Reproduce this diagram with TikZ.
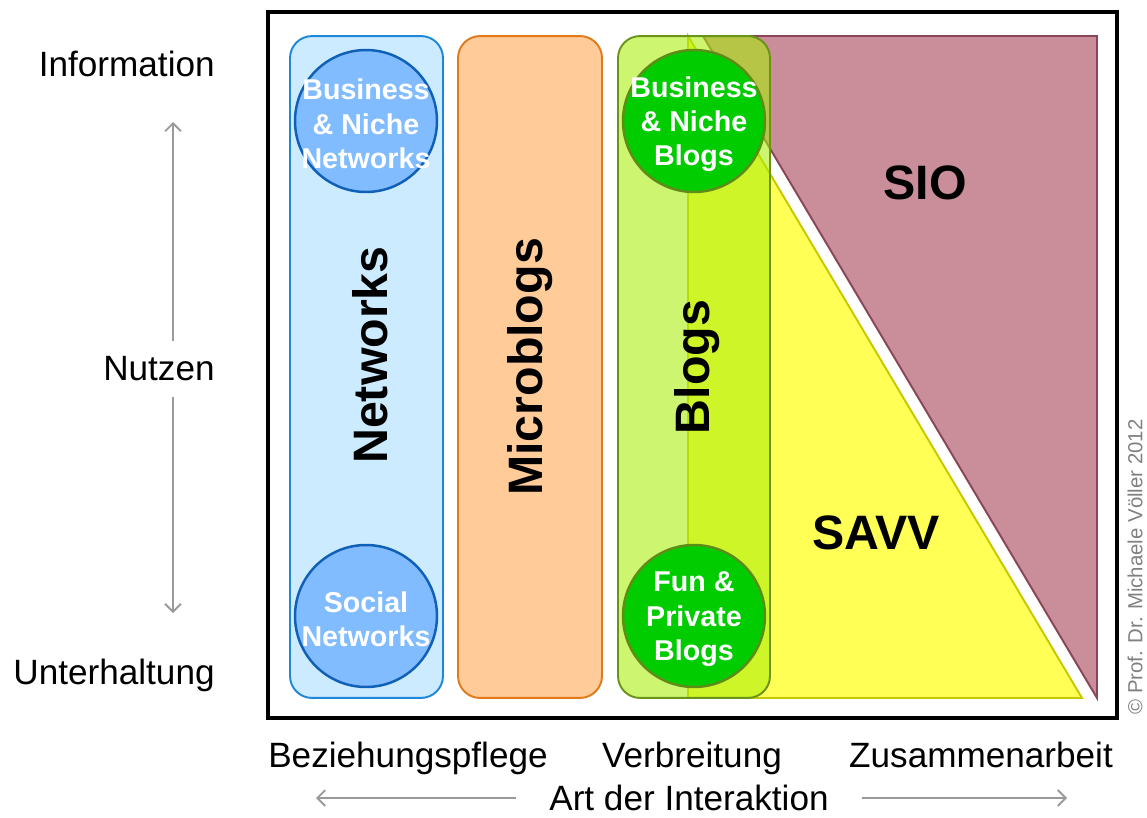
\documentclass[tikz,border=0pt]{standalone}
\usepackage{fontspec}
\setmainfont{Liberation Sans}
\usetikzlibrary{positioning}
\usetikzlibrary{arrows.meta}

\definecolor{netfill}{HTML}{CCEBFF}
\definecolor{netline}{HTML}{1E88D8}
\definecolor{netcirc}{HTML}{80BCFF}
\definecolor{netcircline}{HTML}{1060B8}
\definecolor{mbfill}{HTML}{FFCC99}
\definecolor{mbline}{HTML}{E07A1A}
\definecolor{blogfill}{RGB}{169,238,8}
\definecolor{blogline}{HTML}{6A9418}
\definecolor{blogcirc}{HTML}{00CC00}
\definecolor{blogcircline}{HTML}{5E8C18}
\definecolor{savvfill}{HTML}{FFFF55}
\definecolor{savvline}{HTML}{C8C800}
\definecolor{siofill}{HTML}{C98E9A}
\definecolor{sioline}{HTML}{8A4558}
\definecolor{arrowgray}{HTML}{9A9A9A}

\tikzset{
  column/.style={rectangle, rounded corners=12.5pt, line width=1.1pt,
    minimum height=13.24cm, inner sep=0pt, outer sep=0pt},
  bubble/.style={circle, line width=1.4pt, minimum size=2.84cm, inner sep=0pt},
  bubbletext/.style={text=white, align=center, inner sep=0pt, yshift=-1.8pt,
    font=\fontsize{16.3}{19.6}\selectfont\bfseries},
  biglabel/.style={font=\fontsize{27.5}{33}\selectfont\bfseries},
  axislabel/.style={font=\fontsize{20}{24}\selectfont, inner xsep=0pt},
  axisarrow/.style={arrowgray, line width=1.1pt,
    -{Straight Barb[length=4.5pt,width=9pt]}},
}

\begin{document}
\begin{tikzpicture}[x=0.02cm, y=-0.02cm]
\useasboundingbox (0,0) rectangle (1147,818);

% triangles behind the blog column
\filldraw[fill=savvfill, draw=savvline, line width=1.1pt]
  (688,36) -- (688,698) -- (1082,698) -- cycle;
\filldraw[fill=siofill, draw=sioline, line width=1.1pt]
  (703,36) -- (1097,36) -- (1097,698) -- cycle;
\node[biglabel] (sio) at (925,183) {SIO};
\node[biglabel] (savv) at (876,533) {SAVV};

% columns
\node[column, draw=netline, fill=netfill, minimum width=3.06cm] (networks) at (366.5,367) {};
\node[column, draw=mbline, fill=mbfill, minimum width=2.88cm] (microblogs) at (530,367) {};
\node[column, draw=blogline, fill=blogfill, fill opacity=0.58, minimum width=3.04cm] (blogs) at (694,367) {};

\node[biglabel, rotate=90] (networkstext) at (370,355) {Networks};
\node[biglabel, rotate=90] (microblogstext) at (530,367) {Microblogs};
\node[biglabel, rotate=90] (blogstext) at (697,367) {Blogs};

% bubbles
\node[bubble, draw=netcircline, fill=netcirc] (nichenet) at (366,121) {};
\node[bubbletext] at (nichenet.center) {Business\\\& Niche\\Networks};
\node[bubble, draw=netcircline, fill=netcirc] (socialnet) at (366,616) {};
\node[bubbletext] at (socialnet.center) {Social\\Networks};
\node[bubble, draw=blogcircline, fill=blogcirc] (nicheblog) at (694,121) {};
\node[bubbletext] at (nicheblog.center) {Business\\\& Niche\\Blogs};
\node[bubble, draw=blogcircline, fill=blogcirc] (funblog) at (694,616) {};
\node[bubbletext] at (funblog.center) {Fun \&\\Private\\Blogs};

% frame
\draw[line width=2.8pt] (268,12) rectangle (1117,718);

% vertical axis
\node[axislabel, anchor=east] (information) at (215,64) {Information};
\node[axislabel, anchor=east, inner ysep=9pt] (nutzen) at (215,369) {Nutzen};
\node[axislabel, anchor=east] (unterhaltung) at (215,675) {Unterhaltung};
\coordinate (toptip) at (173,122);
\coordinate (bottip) at (173,613);
\draw[axisarrow] (nutzen.north -| toptip) -- (toptip);
\draw[axisarrow] (nutzen.south -| bottip) -- (bottip);

% horizontal axis
\node[axislabel, anchor=base] (pflege) at (408,767) {Beziehungspflege};
\node[axislabel, anchor=base] (verbreitung) at (692,767) {Verbreitung};
\node[axislabel, anchor=base] (zusammen) at (981,767) {Zusammenarbeit};
\node[axislabel, inner xsep=19pt, inner ysep=0pt] (interaktion) at (689,798) {Art der Interaktion};
\coordinate (lefttip) at (316,800);
\coordinate (righttip) at (1067,800);
\draw[axisarrow] (interaktion.west) -- (interaktion.west -| lefttip);
\draw[axisarrow] (interaktion.east) -- (interaktion.east -| righttip);

\node[rotate=90, text=gray, font=\fontsize{11.6}{14}\selectfont] (copyright) at (1135,567) {© Prof. Dr. Michaele Völler 2012};
\end{tikzpicture}
\end{document}
